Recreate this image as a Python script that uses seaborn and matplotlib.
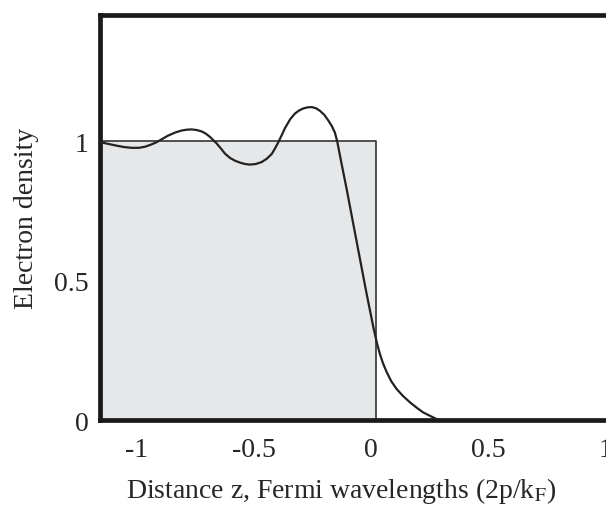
import numpy as np
import pandas as pd
import matplotlib as mpl
import matplotlib.pyplot as plt
import matplotlib.transforms as mtrans
import seaborn as sb

sb.set_style("white")
plt.rcParams['font.family'] = ['Liberation Serif', 'DejaVu Serif']
plt.rcParams['mathtext.fontset'] = 'stix'
plt.rcParams['axes.unicode_minus'] = False

# electron density
z = [-1.177, -1.145, -1.112, -1.075, -1.041, -1.010, -0.984, -0.960, -0.935, -0.910,
     -0.885, -0.855, -0.828, -0.806, -0.786, -0.765, -0.743, -0.725, -0.707, -0.679,
     -0.660, -0.643, -0.622, -0.601, -0.579, -0.558, -0.537, -0.512, -0.487, -0.465,
     -0.444, -0.430, -0.416, -0.400, -0.388, -0.365, -0.345, -0.327, -0.310, -0.292,
     -0.274, -0.256, -0.239, -0.220, -0.203, -0.188, -0.175, -0.165, -0.150, -0.125,
     -0.082, -0.040, -0.010, 0.005, 0.017, 0.030, 0.046, 0.065, 0.088, 0.115, 0.145,
     0.175, 0.201, 0.244, 0.27, 0.4, 0.7, 1.0]
density = [0.998, 0.992, 0.986, 0.980, 0.977, 0.977, 0.981, 0.988, 0.997, 1.009,
           1.021, 1.032, 1.039, 1.042, 1.043, 1.041, 1.036, 1.028, 1.016, 0.993,
           0.974, 0.956, 0.941, 0.931, 0.924, 0.919, 0.917, 0.919, 0.926, 0.938,
           0.955, 0.975, 0.997, 1.025, 1.047, 1.080, 1.100, 1.111, 1.118, 1.122,
           1.123, 1.119, 1.110, 1.095, 1.075, 1.055, 1.032, 1.000, 0.935, 0.83,
           0.64, 0.455, 0.33, 0.275, 0.238, 0.205, 0.173, 0.141, 0.113, 0.088, 0.065,
           0.045, 0.029, 0.011, 0.0, 0.0, 0.0, 0.0]

# jellium step
bulk_z = [-1.177, 0.0]
bulk_n = [1.0, 1.0]

xticks = [-1, -0.5, 0, 0.5, 1]
xticklabels = ["-1", "-0.5", "0", "0.5", "1"]
yticks = [0, 0.5, 1]
yticklabels = ["0", "0.5", "1"]

dataset = pd.DataFrame({"z": z, "n": density})

fig = plt.figure(figsize=(6.06, 5.06), dpi=100)
ax = fig.add_axes([0.1645, 0.167, 0.8432, 0.8014])

ax.fill_between(bulk_z, 0, bulk_n, color="#e6e7e8", lw=0, zorder=1)
ax.plot([bulk_z[0], bulk_z[1], bulk_z[1]], [bulk_n[0], bulk_n[1], 0],
        color="#333333", lw=1.2, zorder=2)

sb.lineplot(data=dataset, x="z", y="n", color="#222222", lw=1.6, ax=ax, zorder=3)

ax.set_xlim(-1.177, 1.0)
ax.set_ylim(0, 1.453)
ax.set_xticks(xticks)
ax.set_xticklabels(xticklabels)
ax.set_yticks(yticks)
ax.set_yticklabels(yticklabels)
ax.tick_params(axis="x", direction="in", length=6, width=1, labelsize=20, pad=12, color="#222222")
ax.tick_params(axis="y", direction="in", length=0, labelsize=20, pad=8)

# labels sit a little left of their ticks in the original
offset = mtrans.ScaledTranslation(-5 / 100, 0, fig.dpi_scale_trans)
for lab in ax.get_xticklabels():
    lab.set_transform(lab.get_transform() + offset)
    lab.set_clip_on(False)

for s in ["top", "left", "bottom", "right"]:
    ax.spines[s].set_linewidth(3.4)
    ax.spines[s].set_color("#1a1a1a")

ax.set_xlabel("Distance z, Fermi wavelengths (2p/k$_{\\rm F}$)", fontsize=20)
ax.xaxis.set_label_coords(0.472, -0.135, transform=ax.transAxes)
ax.xaxis.label.set_verticalalignment("top")
ax.set_ylabel("Electron density", fontsize=20, labelpad=11)

fig.savefig("out.png", dpi=100)
